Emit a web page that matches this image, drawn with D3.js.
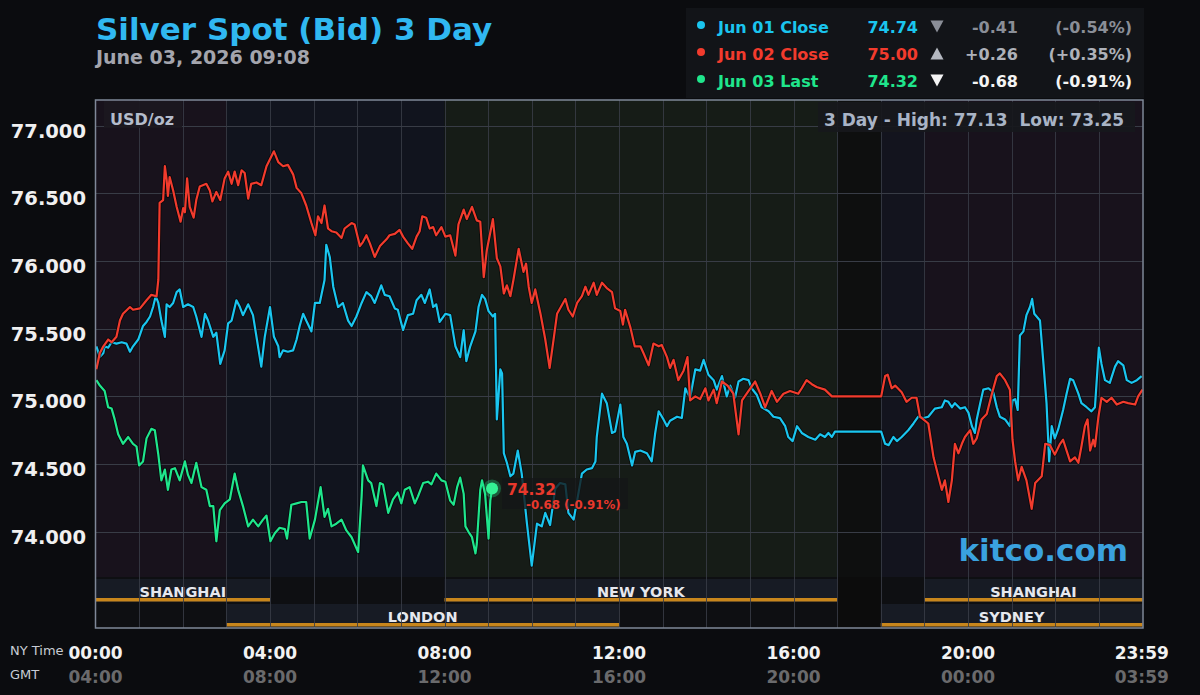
<!DOCTYPE html>
<html><head><meta charset="utf-8">
<script src="https://cdn.jsdelivr.net/npm/d3@7/dist/d3.min.js"></script>
<style>
html,body{margin:0;padding:0;background:#0b0c0f;}
svg{display:block;font-family:"DejaVu Sans",sans-serif;}
</style></head><body>
<svg id="chart" width="1200" height="695"></svg>
<script>
// ---- DATA: [hour of NY day, price] ----
const jun01 = [[0.02,75.37],[0.10,75.29],[0.18,75.32],[0.21,75.37],[0.29,75.36],[0.37,75.40],[0.48,75.39],[0.60,75.40],[0.71,75.39],[0.79,75.33],[0.86,75.37],[0.98,75.42],[1.09,75.52],[1.17,75.55],[1.25,75.59],[1.32,75.66],[1.38,75.74],[1.44,75.69],[1.51,75.56],[1.59,75.44],[1.63,75.68],[1.70,75.66],[1.78,75.69],[1.86,75.77],[1.93,75.79],[2.01,75.66],[2.12,75.68],[2.24,75.66],[2.31,75.59],[2.43,75.44],[2.51,75.61],[2.58,75.56],[2.70,75.44],[2.77,75.47],[2.86,75.24],[2.96,75.34],[3.04,75.54],[3.12,75.56],[3.23,75.71],[3.31,75.66],[3.38,75.60],[3.50,75.68],[3.61,75.60],[3.70,75.42],[3.80,75.22],[3.88,75.44],[4.00,75.66],[4.09,75.44],[4.19,75.37],[4.22,75.29],[4.30,75.34],[4.41,75.33],[4.53,75.34],[4.61,75.42],[4.68,75.52],[4.76,75.61],[4.83,75.56],[4.95,75.48],[5.03,75.69],[5.14,75.69],[5.25,75.86],[5.29,76.12],[5.37,76.03],[5.45,75.81],[5.56,75.66],[5.67,75.69],[5.79,75.56],[5.87,75.52],[5.98,75.59],[6.10,75.69],[6.21,75.77],[6.32,75.74],[6.40,75.69],[6.55,75.82],[6.63,75.75],[6.74,75.74],[6.86,75.65],[6.93,75.64],[7.05,75.49],[7.16,75.60],[7.28,75.61],[7.36,75.71],[7.47,75.75],[7.55,75.69],[7.66,75.79],[7.74,75.66],[7.81,75.68],[7.89,75.55],[8.02,75.61],[8.13,75.60],[8.25,75.37],[8.36,75.29],[8.44,75.49],[8.50,75.26],[8.59,75.37],[8.71,75.48],[8.78,75.66],[8.86,75.75],[8.93,75.72],[9.01,75.63],[9.11,75.59],[9.16,75.61],[9.20,74.83],[9.28,75.20],[9.32,75.17],[9.36,74.58],[9.43,74.51],[9.51,74.41],[9.58,74.43],[9.68,74.60],[9.77,74.43],[9.89,74.06],[10.00,73.75],[10.12,74.06],[10.23,74.04],[10.31,74.14],[10.42,74.05],[10.54,74.32],[10.65,74.36],[10.77,74.35],[10.84,74.14],[10.96,74.09],[11.04,74.23],[11.15,74.43],[11.26,74.46],[11.38,74.47],[11.46,74.52],[11.49,74.70],[11.61,75.02],[11.72,74.95],[11.84,74.73],[11.91,74.74],[12.03,74.94],[12.10,74.70],[12.18,74.65],[12.30,74.49],[12.37,74.59],[12.49,74.60],[12.64,74.58],[12.75,74.52],[12.83,74.73],[12.91,74.89],[13.02,74.83],[13.10,74.78],[13.17,74.82],[13.33,74.85],[13.44,74.84],[13.52,75.06],[13.63,74.99],[13.75,75.20],[13.86,75.19],[13.94,75.27],[14.05,75.16],[14.17,75.12],[14.24,75.05],[14.36,75.15],[14.47,75.00],[14.55,75.08],[14.66,74.99],[14.74,75.11],[14.85,75.13],[14.97,75.12],[15.04,75.06],[15.16,75.01],[15.27,74.92],[15.43,74.89],[15.54,74.85],[15.69,74.84],[15.81,74.78],[15.88,74.70],[15.98,74.67],[16.08,74.78],[16.19,74.73],[16.34,74.70],[16.50,74.68],[16.61,74.72],[16.72,74.70],[16.80,74.73],[16.88,74.70],[16.95,74.74],[18.01,74.74],[18.10,74.65],[18.18,74.64],[18.29,74.70],[18.37,74.67],[18.48,74.70],[18.63,74.75],[18.75,74.80],[18.86,74.85],[18.98,74.84],[19.09,74.85],[19.24,74.91],[19.40,74.92],[19.47,74.97],[19.55,74.96],[19.63,74.92],[19.70,74.95],[19.82,74.91],[19.93,74.92],[20.01,74.88],[20.09,74.78],[20.16,74.73],[20.20,74.83],[20.28,74.95],[20.35,75.05],[20.47,75.06],[20.58,75.03],[20.66,74.92],[20.73,74.85],[20.85,74.83],[20.96,74.78],[21.02,74.97],[21.08,74.98],[21.14,74.90],[21.19,75.45],[21.27,75.48],[21.34,75.60],[21.42,75.66],[21.47,75.72],[21.52,75.61],[21.65,75.56],[21.73,75.24],[21.80,74.95],[21.86,74.52],[21.92,74.78],[21.99,74.69],[22.07,74.76],[22.18,74.90],[22.26,75.02],[22.34,75.13],[22.41,75.12],[22.53,75.02],[22.60,74.95],[22.72,74.92],[22.83,74.89],[22.91,74.92],[23.00,75.36],[23.06,75.24],[23.14,75.12],[23.25,75.10],[23.37,75.22],[23.44,75.26],[23.56,75.23],[23.64,75.12],[23.75,75.10],[23.87,75.12],[23.98,75.15]];

const jun02 = [[0.02,75.20],[0.10,75.32],[0.18,75.37],[0.29,75.42],[0.37,75.40],[0.48,75.44],[0.56,75.56],[0.63,75.61],[0.79,75.66],[0.86,75.64],[1.02,75.65],[1.17,75.71],[1.28,75.75],[1.40,75.74],[1.44,75.86],[1.47,76.43],[1.55,76.45],[1.59,76.70],[1.63,76.60],[1.66,76.48],[1.70,76.62],[1.78,76.52],[1.86,76.40],[1.95,76.29],[2.01,76.39],[2.05,76.36],[2.10,76.61],[2.16,76.40],[2.25,76.32],[2.31,76.45],[2.39,76.55],[2.54,76.57],[2.62,76.52],[2.68,76.44],[2.77,76.51],[2.86,76.45],[2.96,76.61],[3.04,76.66],[3.12,76.57],[3.19,76.66],[3.27,76.56],[3.35,76.67],[3.42,76.65],[3.50,76.46],[3.57,76.57],[3.69,76.58],[3.80,76.56],[3.92,76.70],[4.09,76.81],[4.19,76.73],[4.30,76.70],[4.41,76.71],[4.53,76.64],[4.61,76.54],[4.72,76.50],[4.83,76.41],[4.95,76.28],[5.04,76.19],[5.10,76.33],[5.18,76.28],[5.25,76.41],[5.33,76.24],[5.41,76.22],[5.52,76.21],[5.64,76.17],[5.71,76.24],[5.87,76.28],[5.94,76.27],[6.06,76.11],[6.13,76.14],[6.21,76.19],[6.29,76.13],[6.40,76.03],[6.52,76.11],[6.67,76.16],[6.74,76.19],[6.86,76.20],[6.97,76.23],[7.05,76.18],[7.16,76.13],[7.26,76.09],[7.36,76.18],[7.43,76.22],[7.49,76.33],[7.58,76.32],[7.66,76.24],[7.74,76.25],[7.81,76.19],[7.93,76.25],[8.02,76.18],[8.13,76.19],[8.25,76.04],[8.32,76.27],[8.44,76.38],[8.51,76.31],[8.63,76.40],[8.74,76.30],[8.82,76.29],[8.90,75.88],[8.97,76.08],[9.11,76.31],[9.20,76.02],[9.28,75.96],[9.36,75.76],[9.43,75.82],[9.51,75.74],[9.58,75.86],[9.70,76.09],[9.81,75.92],[9.87,75.98],[9.93,75.81],[10.00,75.69],[10.08,75.79],[10.20,75.61],[10.31,75.42],[10.41,75.21],[10.50,75.42],[10.58,75.61],[10.77,75.72],[10.84,75.64],[10.94,75.59],[11.04,75.69],[11.15,75.74],[11.23,75.81],[11.30,75.75],[11.42,75.84],[11.49,75.75],[11.61,75.84],[11.72,75.80],[11.84,75.77],[11.91,75.65],[12.03,75.63],[12.09,75.53],[12.14,75.64],[12.26,75.51],[12.36,75.37],[12.49,75.37],[12.56,75.32],[12.68,75.23],[12.79,75.39],[12.91,75.37],[12.98,75.38],[13.10,75.29],[13.17,75.21],[13.25,75.27],[13.36,75.12],[13.48,75.19],[13.57,75.29],[13.63,74.97],[13.75,75.00],[13.86,74.98],[13.98,75.06],[14.05,74.97],[14.17,75.05],[14.24,74.95],[14.36,75.11],[14.49,75.08],[14.62,75.02],[14.74,74.72],[14.82,74.97],[14.97,75.04],[15.12,75.11],[15.24,75.02],[15.35,74.92],[15.50,75.04],[15.62,74.96],[15.77,75.02],[15.92,75.04],[16.11,75.02],[16.19,75.06],[16.30,75.12],[16.42,75.09],[16.53,75.07],[16.72,75.05],[16.88,75.00],[18.01,75.00],[18.10,75.15],[18.16,75.16],[18.25,75.06],[18.33,75.08],[18.48,75.03],[18.59,74.96],[18.71,74.99],[18.82,74.99],[18.90,74.85],[19.09,74.80],[19.21,74.55],[19.32,74.41],[19.40,74.31],[19.47,74.38],[19.55,74.22],[19.63,74.38],[19.70,74.65],[19.78,74.58],[19.86,74.65],[19.93,74.70],[20.05,74.75],[20.12,74.65],[20.20,74.69],[20.31,74.83],[20.43,74.87],[20.54,75.01],[20.66,75.15],[20.73,75.17],[20.85,75.12],[20.96,75.05],[21.02,74.68],[21.08,74.52],[21.15,74.38],[21.23,74.48],[21.34,74.38],[21.46,74.17],[21.54,74.36],[21.69,74.41],[21.77,74.65],[21.88,74.64],[21.99,74.57],[22.11,74.65],[22.18,74.68],[22.26,74.60],[22.34,74.52],[22.45,74.55],[22.53,74.51],[22.60,74.63],[22.68,74.78],[22.74,74.83],[22.80,74.60],[22.87,74.68],[22.91,74.63],[22.99,74.85],[23.06,74.99],[23.18,74.96],[23.29,74.99],[23.41,74.94],[23.56,74.96],[23.67,74.95],[23.83,74.94],[23.90,75.00],[24.00,75.05]];

const jun03 = [[0.02,75.12],[0.10,75.08],[0.21,75.04],[0.29,74.92],[0.37,74.91],[0.44,74.83],[0.52,74.72],[0.63,74.65],[0.75,74.70],[0.86,74.65],[0.94,74.63],[1.00,74.49],[1.09,74.52],[1.17,74.69],[1.28,74.76],[1.36,74.75],[1.44,74.57],[1.51,74.38],[1.59,74.46],[1.66,74.31],[1.74,74.46],[1.82,74.47],[1.93,74.38],[2.05,74.52],[2.12,74.42],[2.20,74.36],[2.31,74.51],[2.43,74.33],[2.54,74.31],[2.62,74.19],[2.70,74.19],[2.77,73.93],[2.85,74.16],[2.96,74.21],[3.08,74.24],[3.19,74.43],[3.27,74.31],[3.38,74.19],[3.50,74.04],[3.61,74.09],[3.73,74.04],[3.84,74.09],[3.92,74.12],[4.01,73.93],[4.11,73.99],[4.22,74.03],[4.34,74.02],[4.39,73.95],[4.49,74.20],[4.61,74.21],[4.72,74.22],[4.83,74.22],[4.91,73.95],[5.03,74.09],[5.16,74.33],[5.25,74.11],[5.33,74.17],[5.41,74.04],[5.52,74.06],[5.64,74.09],[5.75,74.01],[5.87,73.96],[6.02,73.85],[6.10,74.26],[6.13,74.49],[6.25,74.38],[6.32,74.36],[6.44,74.19],[6.52,74.36],[6.59,74.35],[6.71,74.14],[6.82,74.24],[6.93,74.29],[7.01,74.21],[7.09,74.31],[7.20,74.33],[7.32,74.21],[7.39,74.26],[7.51,74.36],[7.62,74.37],[7.70,74.35],[7.81,74.43],[7.93,74.38],[8.02,74.37],[8.13,74.23],[8.21,74.20],[8.29,74.33],[8.36,74.40],[8.44,74.28],[8.48,74.04],[8.55,74.00],[8.63,73.96],[8.71,73.84],[8.74,73.91],[8.82,74.31],[8.86,74.38],[8.93,74.28],[9.01,73.95],[9.05,74.23],[9.09,74.32]];

const yTicks = [74.0, 74.5, 75.0, 75.5, 76.0, 76.5, 77.0];
const xTickHours = [0, 4, 8, 12, 16, 20, 23.983];
const nyLabels = ["00:00","04:00","08:00","12:00","16:00","20:00","23:59"];
const gmtLabels = ["04:00","08:00","12:00","16:00","20:00","00:00","03:59"];
const bands = [[0,3,"shanghai"],[3,8,"london"],[8,17,"newyork"],[17,18,"closed"],[18,19,"sydney"],[19,24,"shanghai"]];
const sessionsRow1 = [["SHANGHAI",0,4],["NEW YORK",8,17],["SHANGHAI",19,24]];
const sessionsRow2 = [["LONDON",3,12],["SYDNEY",18,24]];
const legendLabels = ["Jun 01 Close","Jun 02 Close","Jun 03 Last"];
const legendValues = ["74.74","75.00","74.32"];
const legendDirs = ["down","up","down"];
const legendChanges = ["-0.41","+0.26","-0.68"];
const legendPcts = ["(-0.54%)","(+0.35%)","(-0.91%)"];
const lastPoint = [9.09, 74.32];
const lastText = ["74.32", "-0.68 (-0.91%)"];

// ---- STYLE ----
const seriesColors = ["#1ac5ef", "#f23b2d", "#1fe68c"];
const bandColors = {shanghai:"#18121c", london:"#11141e", newyork:"#161c17", closed:"#0e0f0f", sydney:"#13141e"};

const svg = d3.select("#chart");
const x = d3.scaleLinear().domain([0,24]).range([95.5,1142.5]);
const y = d3.scaleLinear().domain([74,77]).range([531.8,125.6]);
const plotTop = 100, priceBottom = 577, row1Top = 578, row2Top = 603, plotBottom = 628;

// bands
svg.append("g").selectAll("rect").data(bands).join("rect")
  .attr("x", d=>x(d[0])).attr("width", d=>x(d[1])-x(d[0]))
  .attr("y", plotTop).attr("height", priceBottom-plotTop)
  .attr("fill", d=>bandColors[d[2]]);
svg.append("rect").attr("x",x(0)).attr("width",x(24)-x(0)).attr("y",priceBottom).attr("height",plotBottom-priceBottom).attr("fill","#0e0f12");
svg.append("rect").attr("x",x(17)).attr("width",x(18)-x(17)).attr("y",priceBottom).attr("height",plotBottom-priceBottom).attr("fill","#0c0c0c");

// session bars
function sessionRow(data, top){
  const g = svg.append("g");
  g.selectAll("rect.bar").data(data).join("rect").attr("class","bar")
    .attr("x", d=>x(d[1])).attr("width", d=>x(d[2])-x(d[1]))
    .attr("y", top+1).attr("height", 23).attr("fill","#171b24");
  g.selectAll("rect.line").data(data).join("rect").attr("class","line")
    .attr("x", d=>x(d[1])).attr("width", d=>x(d[2])-x(d[1]))
    .attr("y", top+20).attr("height", 3.5).attr("fill","#c8861c");
  return g;
}
const r1 = sessionRow(sessionsRow1, row1Top);
const r2 = sessionRow(sessionsRow2, row2Top);

// grid
const grid = svg.append("g").attr("stroke","#383c46").attr("stroke-width",1);
grid.selectAll("line.h").data(yTicks).join("line").attr("class","h")
  .attr("x1",x(0)).attr("x2",x(24)).attr("y1",d=>Math.round(y(d))+0.5).attr("y2",d=>Math.round(y(d))+0.5);
grid.selectAll("line.v").data(d3.range(1,24)).join("line").attr("class","v")
  .attr("y1",plotTop).attr("y2",plotBottom).attr("x1",d=>Math.round(x(d))+0.5).attr("x2",d=>Math.round(x(d))+0.5)
  .attr("stroke-opacity",0.85);

// lines
const line = d3.line().x(d=>x(d[0])).y(d=>y(d[1]));
const lg = svg.append("g").attr("fill","none").attr("stroke-linejoin","round");
[jun01, jun02, jun03].forEach((s,i)=>{
  lg.append("path").datum(s).attr("d",line).attr("stroke","#000").attr("stroke-opacity",0.55).attr("stroke-width",4);
  lg.append("path").datum(s).attr("d",line).attr("stroke",seriesColors[i]).attr("stroke-width",2.2);
});

// session labels
function sessionLabels(g, data, top){
  g.selectAll("text").data(data).join("text")
    .attr("x", d=>(x(d[1])+x(d[2]))/2).attr("y", top+19)
    .attr("text-anchor","middle").attr("font-weight","bold").attr("font-size",14.5)
    .attr("fill","#e6e8ee").text(d=>d[0]);
}
sessionLabels(r1, sessionsRow1, row1Top);
sessionLabels(r2, sessionsRow2, row2Top);

// frame
svg.append("rect").attr("x",95.5).attr("y",100).attr("width",1047.5).attr("height",528)
  .attr("fill","none").attr("stroke","#7f8898").attr("stroke-width",1.5);

// USD/oz box
svg.append("rect").attr("x",104).attr("y",101).attr("width",78).attr("height",27).attr("fill","#1b1820").attr("opacity",0.95);
svg.append("text").attr("x",110).attr("y",125).attr("font-weight","bold").attr("font-size",16).attr("fill","#b4bccb").text("USD/oz");

// High/low box
svg.append("rect").attr("x",818).attr("y",102).attr("width",317).attr("height",30).attr("fill","#17181c").attr("opacity",0.92);
svg.append("text").attr("x",824).attr("y",126).attr("font-weight","bold").attr("font-size",17).attr("fill","#a9b4c6")
  .style("white-space","pre").text("3 Day - High: 77.13  Low: 73.25");

// kitco
svg.append("text").attr("x",1128).attr("y",561).attr("text-anchor","end").attr("font-weight","bold")
  .attr("font-size",31).attr("fill","#3aa2df").text("kitco.com");

// last marker
const lx = x(lastPoint[0]), ly = y(lastPoint[1]);
svg.append("rect").attr("x",502).attr("y",478).attr("width",126).attr("height",31).attr("fill","#141618").attr("opacity",0.8);
svg.append("circle").attr("cx",lx).attr("cy",ly).attr("r",9).attr("fill","#2cf08e").attr("opacity",0.3);
svg.append("circle").attr("cx",lx).attr("cy",ly).attr("r",6).attr("fill","#34f394");
svg.append("text").attr("x",507).attr("y",494.5).attr("font-weight","bold").attr("font-size",15.5).attr("fill","#e8382c").text(lastText[0]);
svg.append("text").attr("x",526).attr("y",508.5).attr("font-weight","bold").attr("font-size",11.8).attr("fill","#e8382c").text(lastText[1]);

// y axis labels
svg.append("g").selectAll("text").data(yTicks).join("text")
  .attr("x",86).attr("y",d=>y(d)+12).attr("text-anchor","end").attr("font-weight","bold")
  .attr("font-size",19.5).attr("fill","#f0f0f0").text(d=>d3.format(".3f")(d));

// x axis labels
svg.append("g").selectAll("text").data(xTickHours).join("text")
  .attr("x",d=>x(d)).attr("y",659).attr("text-anchor","middle").attr("font-weight","bold")
  .attr("font-size",17).attr("fill","#f2f2f2").text((d,i)=>nyLabels[i]);
svg.append("g").selectAll("text").data(xTickHours).join("text")
  .attr("x",d=>x(d)).attr("y",683).attr("text-anchor","middle").attr("font-weight","bold")
  .attr("font-size",17).attr("fill","#6a6a6c").text((d,i)=>gmtLabels[i]);
svg.append("text").attr("x",10).attr("y",655).attr("font-size",13).attr("fill","#c8ccd4").text("NY Time");
svg.append("text").attr("x",10).attr("y",679).attr("font-size",13).attr("fill","#c8ccd4").text("GMT");

// title
svg.append("text").attr("x",96).attr("y",39.5).attr("font-weight","bold").attr("font-size",31).attr("fill","#30b8f1").text("Silver Spot (Bid) 3 Day");
svg.append("text").attr("x",96).attr("y",63.5).attr("font-weight","bold").attr("font-size",19).attr("fill","#a4a5ad").text("June 03, 2026 09:08");

// legend
svg.append("rect").attr("x",686).attr("y",8).attr("width",458).attr("height",90).attr("fill","#121418");
const triColors = ["#8a8e97","#b4b8c0","#f4f4f4"];
const chgColors = ["#8a8e97","#aeb1b9","#f4f4f4"];
legendLabels.forEach((lab,i)=>{
  const by = 33 + i*27;
  svg.append("circle").attr("cx",701).attr("cy",by-8).attr("r",4).attr("fill",seriesColors[i]);
  svg.append("text").attr("x",718).attr("y",by).attr("font-weight","bold").attr("font-size",16).attr("fill",seriesColors[i]).text(lab);
  svg.append("text").attr("x",918).attr("y",by).attr("text-anchor","end").attr("font-weight","bold").attr("font-size",16).attr("fill",seriesColors[i]).text(legendValues[i]);
  const cx = 937, cy = by-6.5;
  const tri = legendDirs[i]==="down"
    ? `M${cx-6.5},${cy-6} L${cx+6.5},${cy-6} L${cx},${cy+6} Z`
    : `M${cx-6.5},${cy+6} L${cx+6.5},${cy+6} L${cx},${cy-6} Z`;
  svg.append("path").attr("d",tri).attr("fill",triColors[i]);
  svg.append("text").attr("x",1018).attr("y",by).attr("text-anchor","end").attr("font-weight","bold").attr("font-size",16).attr("fill",chgColors[i]).text(legendChanges[i]);
  svg.append("text").attr("x",1132).attr("y",by).attr("text-anchor","end").attr("font-weight","bold").attr("font-size",16).attr("fill",chgColors[i]).text(legendPcts[i]);
});
</script>
</body></html>
